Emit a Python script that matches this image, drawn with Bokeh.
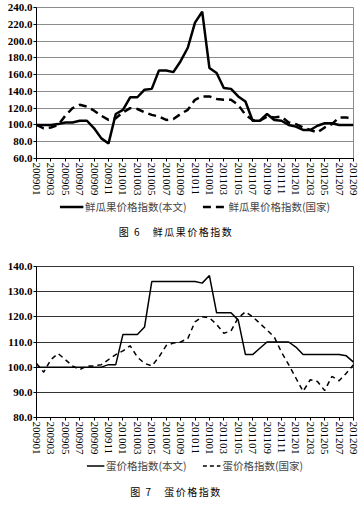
from bokeh.plotting import figure
from bokeh.models import (Legend, LegendItem, Div, PrintfTickFormatter, FixedTicker,
                          Range1d, ColumnDataSource)
from bokeh.layouts import column
from bokeh.embed import file_html
from bokeh.resources import INLINE

months = ["200901", "200902", "200903", "200904", "200905", "200906", "200907", "200908",
          "200909", "200910", "200911", "200912",
          "201001", "201002", "201003", "201004", "201005", "201006", "201007", "201008",
          "201009", "201010", "201011", "201012",
          "201101", "201102", "201103", "201104", "201105", "201106", "201107", "201108",
          "201109", "201110", "201111", "201112",
          "201201", "201202", "201203", "201204", "201205", "201206", "201207", "201208",
          "201209"]

tick_labels = ["200901", "200903", "200905", "200907", "200909", "200911",
               "201001", "201003", "201005", "201007", "201009", "201011",
               "201001", "201103", "201105", "201107", "201109", "201111",
               "201201", "201203", "201205", "201207", "201209"]

fruit_ours = [100, 100, 100, 101, 103, 103, 105, 105, 96, 84, 78, 113, 118, 133, 133, 142,
              143, 165, 165, 163, 176, 192, 222, 235, 168, 162, 144, 143, 134, 128, 105, 105,
              113, 106, 105, 100, 98, 94, 94, 99, 102, 102, 100, 100, 100]
fruit_nat = [100, 96, 97, 100, 111, 120, 124, 122, 117, 111, 106, 108, 115, 120, 119, 115,
             112, 110, 106, 107, 113, 118, 130, 134, 134, 131, 130, 130, 124, 112, 106, 105,
             110, 109, 110, 103, 101, 97, 94, 91, 97, 101, 109, 109, 107]

egg_ours = [100, 100, 100, 100, 100, 100, 100, 100, 100, 100, 101, 101, 113, 113, 113, 116,
            134, 134, 134, 134, 134, 134, 134, 133.4, 136.4, 121.6, 121.6, 121.6, 118.7,
            105, 105, 107.5, 110, 110, 110, 110, 108, 105, 105, 105, 105, 105, 105, 104.5, 102]
egg_nat = [101.5, 98, 103, 105.4, 103, 100.5, 99, 100.5, 100.5, 101, 103, 105, 106.5, 108.5,
           104, 101.5, 100.5, 104, 108.6, 109.6, 110, 111.4, 118, 120, 119.6, 117, 113.5,
           114.4, 119.6, 122, 120, 117.4, 114.7, 112, 106, 101, 95.7, 90.4, 95, 94.3, 90.7,
           96.3, 94.6, 97.6, 101]

legend1 = ["鲜瓜果价格指数(本文)", "鲜瓜果价格指数(国家)"]
legend2 = ["蛋价格指数(本文)", "蛋价格指数(国家)"]
caption1 = "图 6&emsp;鲜瓜果价格指数"
caption2 = "图 7&emsp;蛋价格指数"

W = 360
NAN = float("nan")
NOSHRINK = {"flex-shrink": "0"}


def make_chart(ours, nat, ymin, ymax, ystep, lw, dash, grid_color, outline_color, height,
               top):
    xs = list(range(len(months)))
    src = ColumnDataSource(dict(x=xs, month=months, ours=ours, nat=nat))
    p = figure(width=W, height=height, x_range=Range1d(0, len(months) - 1),
               y_range=Range1d(ymin, ymax), output_backend="svg", toolbar_location=None,
               min_border_left=36, min_border_right=7, min_border_top=top,
               min_border_bottom=0, styles=NOSHRINK)
    p.line("x", "ours", source=src, line_color="black", line_width=lw)
    p.line("x", "nat", source=src, line_color="black", line_width=lw, line_dash=dash)

    p.xgrid.visible = False
    p.ygrid.grid_line_color = grid_color
    yt = list(range(ymin, ymax + 1, ystep))
    p.yaxis.ticker = FixedTicker(ticks=yt)
    p.yaxis.formatter = PrintfTickFormatter(format="%.1f")
    p.yaxis.major_label_text_font = "Liberation Serif"
    p.yaxis.major_label_text_font_size = "11px"
    p.yaxis.major_label_text_font_style = "bold"
    p.yaxis.major_label_text_color = "black"
    p.yaxis.major_tick_out = 3
    p.yaxis.major_tick_in = 0
    p.yaxis.major_label_standoff = 1

    xt = xs[::2]
    p.xaxis.ticker = FixedTicker(ticks=xt)
    p.xaxis.major_label_overrides = {t: lbl for t, lbl in zip(xt, tick_labels)}
    p.xaxis.major_label_orientation = "vertical"
    p.xaxis.major_label_text_font = "Liberation Serif"
    p.xaxis.major_label_text_font_size = "11px"
    p.xaxis.major_label_text_color = "black"
    p.xaxis.major_tick_out = 3
    p.xaxis.major_tick_in = 0
    p.xaxis.major_label_standoff = 1
    for ax in (p.xaxis, p.yaxis):
        ax.axis_line_color = "black"
        ax.major_tick_line_color = "black"
        ax.axis_label_standoff = 0

    p.outline_line_color = outline_color
    return p


def make_legend(names, lw, dash, height, glyph_w):
    lf = figure(width=W, height=height, x_range=Range1d(0, 1), y_range=Range1d(0, 1),
                output_backend="svg", toolbar_location=None, min_border=0, styles=NOSHRINK)
    lf.axis.visible = False
    lf.grid.visible = False
    lf.outline_line_color = None
    r1 = lf.line(x=[NAN, NAN], y=[NAN, NAN], line_color="black", line_width=lw)
    r2 = lf.line(x=[NAN, NAN], y=[NAN, NAN], line_color="black", line_width=lw,
                 line_dash=dash)
    legend = Legend(items=[LegendItem(label=names[0], renderers=[r1]),
                           LegendItem(label=names[1], renderers=[r2])],
                    orientation="horizontal", location="center",
                    label_text_font="Noto Sans CJK SC", label_text_font_size="10.5px",
                    label_height=12, label_width=20,
                    glyph_width=glyph_w, glyph_height=10, spacing=16, padding=0, margin=0,
                    label_standoff=2, border_line_alpha=0, background_fill_alpha=0)
    lf.add_layout(legend, "center")
    return lf


def caption(text, height, pad):
    style = ("text-align:center;padding-top:%dpx;font-family:'Noto Sans CJK SC';"
             "font-size:10px;line-height:12px;letter-spacing:1.5px;color:black;width:352px;"
             "height:%dpx;box-sizing:border-box;overflow:hidden" % (pad, height))
    return Div(text='<div style="%s">%s</div>' % (style, text), width=352, height=height,
               margin=0, styles=NOSHRINK)


p1 = make_chart(fruit_ours, fruit_nat, 60, 240, 20, 2.5, "8 5", "#8c8c8c", "#8c8c8c", 198,
                7)
l1 = make_legend(legend1, 2.5, "8 5", 16, 24)
p2 = make_chart(egg_ours, egg_nat, 80, 140, 10, 1.5, "5 4", "#333333", "#333333", 196, 5)
l2 = make_legend(legend2, 1.5, "4 3", 16, 18)

layout = column(p1, l1, caption(caption1, 47, 12), p2, l2, caption(caption2, 28, 13),
                spacing=0)

open("out.html", "w").write(file_html(layout, INLINE))
